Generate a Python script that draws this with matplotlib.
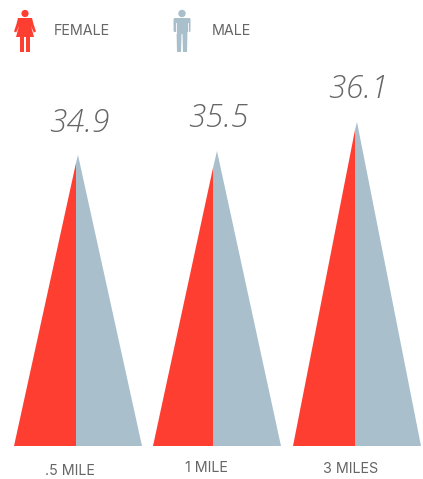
import matplotlib
matplotlib.use('Agg')
import matplotlib.pyplot as plt
from matplotlib.patches import Polygon, Circle, FancyBboxPatch

RED = '#ff3e32'
BLUE = '#a9bfcc'
GREY = '#666666'

# values
distances = ['.5 MILE', '1 MILE', '3 MILES']
averages = ['34.9', '35.5', '36.1']
female_height = [283, 278, 316]
male_height = [291, 295, 324]
female_base = [62, 60, 62]
male_base = [66, 68, 66]

# layout, in pixels of the 423x479 picture
baseline = 446
splits = [76, 213, 355]
apex_shift = [2, 4, 2]
value_pos = [(79, 123), (218, 118), (358, 89)]
label_pos = [(70, 471), (206, 468), (351, 469)]

fig = plt.figure(figsize=(4.23, 4.79), dpi=100)
ax = fig.add_axes([0, 0, 1, 1])
ax.set_xlim(0, 423)
ax.set_ylim(479, 0)
ax.axis('off')


def draw_female(ax, cx):
    # little woman icon, same size as the male one
    ax.add_patch(Circle((cx, 13.5), 3.6, color=RED, lw=0))
    ax.add_patch(Polygon([(cx - 7, 18), (cx + 7, 18), (cx + 8.5, 24), (cx + 11, 31.5),
                          (cx + 8.8, 32.5), (cx + 6, 26), (cx + 9, 37), (cx - 9, 37),
                          (cx - 6, 26), (cx - 8.8, 32.5), (cx - 11, 31.5), (cx - 8.5, 24)],
                         closed=True, color=RED, lw=0))
    ax.add_patch(Polygon([(cx - 5, 36), (cx - 0.8, 36), (cx - 0.8, 52), (cx - 5, 52)], closed=True, color=RED, lw=0))
    ax.add_patch(Polygon([(cx + 0.8, 36), (cx + 5, 36), (cx + 5, 52), (cx + 0.8, 52)], closed=True, color=RED, lw=0))


def draw_male(ax, cx):
    ax.add_patch(Circle((cx, 13.5), 3.7, color=BLUE, lw=0))
    ax.add_patch(FancyBboxPatch((cx - 8.5, 18), 17, 14, boxstyle='round,pad=0,rounding_size=1.5', color=BLUE, lw=0))
    ax.add_patch(Polygon([(cx - 5.5, 30), (cx + 5.5, 30), (cx + 5, 52), (cx + 1, 52), (cx + 0.5, 34),
                          (cx - 0.5, 34), (cx - 1, 52), (cx - 5, 52)], closed=True, color=BLUE, lw=0))
    # gaps between arms and body
    ax.plot([cx - 6, cx - 6], [23, 33], color='white', lw=0.6)
    ax.plot([cx + 6, cx + 6], [23, 33], color='white', lw=0.6)


for i in range(3):
    s = splits[i]
    ax.add_patch(Polygon([(s - female_base[i], baseline), (s, baseline), (s, baseline - female_height[i])],
                         closed=True, color=RED, lw=0))
    ax.add_patch(Polygon([(s, baseline), (s + male_base[i], baseline),
                          (s + apex_shift[i], baseline - male_height[i]), (s, baseline - female_height[i])],
                         closed=True, color=BLUE, lw=0))
    ax.text(value_pos[i][0], value_pos[i][1], averages[i], family='Open Sans', style='italic', weight=300,
            fontsize=23, color=GREY, ha='center', va='center')
    ax.text(label_pos[i][0], label_pos[i][1], distances[i], family='Inter', fontsize=10.3,
            color=GREY, ha='center', va='center')

draw_female(ax, 25)
draw_male(ax, 182)
ax.text(54, 31, 'FEMALE', family='Inter', fontsize=10.3, color=GREY, ha='left', va='center')
ax.text(212, 31, 'MALE', family='Inter', fontsize=10.3, color=GREY, ha='left', va='center')

fig.savefig('out.png', dpi=100)
